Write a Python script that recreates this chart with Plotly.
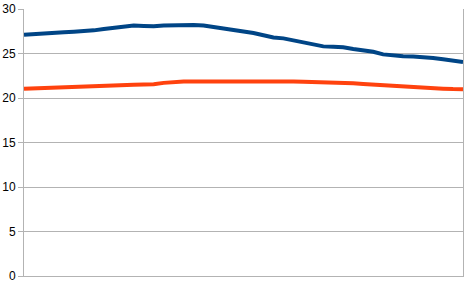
import plotly.graph_objects as go

blue_vals = [27.1, 27.2, 27.25, 27.3, 27.4, 27.45, 27.5, 27.6, 27.75, 27.85,
             27.95, 28.15, 28.1, 28.05, 28.15, 28.2, 28.2, 28.2, 28.15, 28.0,
             27.85, 27.7, 27.55, 27.3, 27.05, 26.8, 26.7, 26.45, 26.2, 26.0,
             25.8, 25.75, 25.7, 25.5, 25.35, 25.2, 24.9, 24.75, 24.7, 24.65,
             24.6, 24.5, 24.35, 24.2, 24.05]
orange_vals = [21.05, 21.1, 21.15, 21.18, 21.2, 21.22, 21.25, 21.3, 21.35, 21.4,
               21.45, 21.5, 21.52, 21.55, 21.7, 21.8, 21.85, 21.85, 21.85, 21.88,
               21.92, 21.95, 21.95, 21.95, 21.88, 21.85, 21.85, 21.85, 21.82, 21.8,
               21.8, 21.8, 21.75, 21.65, 21.58, 21.5, 21.45, 21.38, 21.32, 21.25,
               21.18, 21.1, 21.05, 21.0, 20.98]
x_idx = list(range(len(blue_vals)))
y_ticks = [0, 5, 10, 15, 20, 25, 30]

fig = go.Figure()
fig.add_trace(go.Scatter(x=x_idx, y=blue_vals, mode="lines",
                         line=dict(color="#004586", width=4), showlegend=False))
fig.add_trace(go.Scatter(x=x_idx, y=orange_vals, mode="lines",
                         line=dict(color="#ff420e", width=4), showlegend=False))

fig.update_layout(
    width=466, height=286,
    margin=dict(l=23, r=2, t=8, b=10),
    paper_bgcolor="white", plot_bgcolor="white",
    font=dict(family="Liberation Sans, Arial, sans-serif", size=12, color="#000000"),
    xaxis=dict(range=[0, len(blue_vals) - 1], showticklabels=False, ticks="",
               showgrid=False, zeroline=False, showline=True, linecolor="#b3b3b3",
               linewidth=1, mirror=False),
    yaxis=dict(range=[0, 30], tickvals=y_ticks, ticks="outside", ticklen=5,
               tickcolor="#b3b3b3", showgrid=True, gridcolor="#b3b3b3", gridwidth=1,
               zeroline=False, showline=True, linecolor="#b3b3b3", linewidth=1,
               mirror=True),
)

fig.write_html("out.html")
